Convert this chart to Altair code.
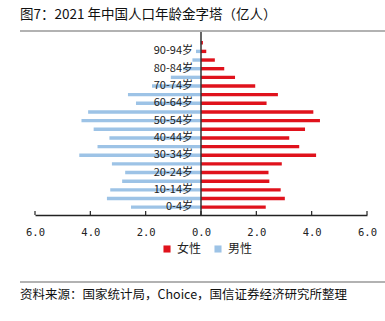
import altair as alt
import pandas as pd

ages = ["0-4岁", "5-9岁", "10-14岁", "15-19岁", "20-24岁", "25-29岁", "30-34岁",
        "35-39岁", "40-44岁", "45-49岁", "50-54岁", "55-59岁", "60-64岁", "65-69岁",
        "70-74岁", "75-79岁", "80-84岁", "85-89岁", "90-94岁", "95岁以上"]
female = [2.34, 3.03, 2.88, 2.47, 2.44, 2.92, 4.16, 3.55, 3.19, 3.76, 4.30, 4.06,
          2.37, 2.78, 1.96, 1.23, 0.84, 0.50, 0.19, 0.07]
male = [2.53, 3.40, 3.28, 2.85, 2.74, 3.22, 4.40, 3.74, 3.31, 3.88, 4.32, 4.08,
        2.35, 2.64, 1.77, 1.09, 0.65, 0.31, 0.18, 0.03]
x_ticks = [-6, -4, -2, 0, 2, 4, 6]
series = ["女性", "男性"]
colors = ["#E0121C", "#9DC3E6"]

rows = []
for i, a in enumerate(ages):
    rows.append({"idx": i, "age": a, "sex": "女性", "v": female[i], "zero": 0})
    rows.append({"idx": i, "age": a, "sex": "男性", "v": -male[i], "zero": 0})
df = pd.DataFrame(rows)
lab_df = pd.DataFrame({"idx": list(range(0, 20, 2)), "age": ages[0:20:2], "zero": 0})
tick_df = pd.DataFrame({"t": x_ticks})

W, H = 332, 182
xscale = alt.Scale(domain=[-6, 6], nice=False, zero=False)
yscale = alt.Scale(domain=[-0.328, 19.546], nice=False, zero=False)
FONT = "Noto Sans CJK SC"

bars = alt.Chart(df).mark_bar(orient="horizontal", size=3.4).encode(
    x=alt.X("v:Q", scale=xscale,
            axis=alt.Axis(values=x_ticks, title=None, grid=False, tickSize=0,
                          labelExpr="format(abs(datum.value), '.1f')",
                          labelFont="DejaVu Sans Mono", labelFontSize=10.5,
                          labelColor="#222", labelPadding=12, labelFlush=False,
                          domainColor="#222", domainWidth=1.3)),
    x2="zero:Q",
    y=alt.Y("idx:Q", scale=yscale, axis=None),
    color=alt.Color("sex:N", scale=alt.Scale(domain=series, range=colors),
                    legend=alt.Legend(title=None, orient="none", direction="horizontal",
                                      legendX=126, legendY=210, symbolType="square",
                                      symbolSize=50, symbolStrokeWidth=0,
                                      labelFont=FONT, labelFontSize=12,
                                      labelColor="#222", columnPadding=10,
                                      padding=0)),
)

ticks = alt.Chart(tick_df).mark_rule(color="#222", strokeWidth=1.2).encode(
    x=alt.X("t:Q", scale=xscale), y=alt.value(H - 4), y2=alt.value(H)
)

zero_line = alt.Chart(tick_df).transform_filter("datum.t == 0").mark_rule(
    color="#333", strokeWidth=1.5).encode(
    x=alt.X("t:Q", scale=xscale), y=alt.value(-1), y2=alt.value(H)
)

labels = alt.Chart(lab_df).mark_text(align="right", baseline="middle", dx=-8,
                                     font=FONT, fontSize=11, color="#222").encode(
    x=alt.X("zero:Q", scale=xscale), y=alt.Y("idx:Q", scale=yscale), text="age:N"
)

title = alt.Chart(tick_df).transform_filter("datum.t == 0").mark_text(
    align="left", baseline="middle", font=FONT, fontSize=13.5, color="#111").encode(
    x=alt.value(-15), y=alt.value(-18), text=alt.value("图7：2021 年中国人口年龄金字塔（亿人）")
)
top_line = alt.Chart(tick_df).transform_filter("datum.t == 0").mark_rule(
    color="#999", strokeWidth=1.5).encode(
    x=alt.value(-15), x2=alt.value(W + 18), y=alt.value(-2)
)
bottom_line = alt.Chart(tick_df).transform_filter("datum.t == 0").mark_rule(
    color="#999", strokeWidth=1.5).encode(
    x=alt.value(-15), x2=alt.value(W + 18), y=alt.value(249)
)
source = alt.Chart(tick_df).transform_filter("datum.t == 0").mark_text(
    align="left", baseline="middle", font=FONT, fontSize=12.5, color="#111").encode(
    x=alt.value(-15), y=alt.value(262),
    text=alt.value("资料来源：国家统计局，Choice，国信证券经济研究所整理")
)

chart = alt.layer(bars, zero_line, ticks, labels, title, top_line, bottom_line, source).properties(
    width=W, height=H,
    autosize=alt.AutoSizeParams(type="none"),
    padding={"left": 35, "top": 33, "right": 18, "bottom": 106},
    background="white",
).configure_view(stroke=None)

chart.save("out.html", embed_options={"renderer": "svg", "actions": False})
